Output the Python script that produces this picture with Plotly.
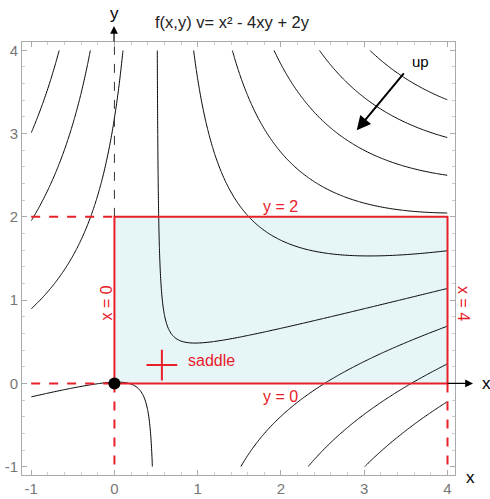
import numpy as np
import plotly.graph_objects as go

# f(x,y) = a*x^2 + b*x*y + c*y
coef_a, coef_b, coef_c = 1, -4, 2
x_span = [-1, 4]
y_span = [-1, 4]
levels = [-31.67, -25.33, -19.0, -12.67, -6.33, 0.0, 6.33, 12.67, 19.0, 25.33]
box_x = [0, 4]
box_y = [0, 2]
saddle_pt = [0.57, 0.22]
origin_pt = [0, 0]
up_tail = [3.49, 3.74]
up_tip = [2.91, 3.04]
tick_vals = [-1, 0, 1, 2, 3, 4]
tick_text = ["-1", "0", "1", "2", "3", "4"]

RED = "#e8202a"
FONT = "Liberation Sans, Arial, sans-serif"

xs = np.linspace(x_span[0], x_span[1], 251)
ys = np.linspace(y_span[0], y_span[1], 251)
X, Y = np.meshgrid(xs, ys)
Z = coef_a * X**2 + coef_b * X * Y + coef_c * Y

step = levels[1] - levels[0]
fig = go.Figure()
fig.add_trace(go.Contour(
    x=xs, y=ys, z=Z,
    contours=dict(coloring="lines", start=levels[0], end=levels[-1] + 0.01, size=step),
    colorscale=[[0, "black"], [1, "black"]],
    line=dict(width=1),
    showscale=False, hoverinfo="skip",
))

# red dashed guides
dash = dict(color=RED, width=2, dash="dash")
for seg in [([x_span[0], box_x[0]], [box_y[1], box_y[1]]),
            ([x_span[0], box_x[0]], [box_y[0], box_y[0]]),
            ([box_x[0], box_x[0]], [box_y[0], y_span[0]]),
            ([box_x[1], box_x[1]], [box_y[0], y_span[0]])]:
    fig.add_trace(go.Scatter(x=seg[0], y=seg[1], mode="lines", line=dash,
                             showlegend=False, hoverinfo="skip"))

# black dashed y axis inside the frame
fig.add_trace(go.Scatter(x=[0, 0], y=[box_y[1], 4.1], mode="lines",
                         line=dict(color="#333", width=1, dash="dash"),
                         showlegend=False, hoverinfo="skip"))

# box border
fig.add_trace(go.Scatter(
    x=[box_x[0], box_x[1], box_x[1], box_x[0], box_x[0]],
    y=[box_y[0], box_y[0], box_y[1], box_y[1], box_y[0]],
    mode="lines", line=dict(color=RED, width=2),
    showlegend=False, hoverinfo="skip"))

fig.add_trace(go.Scatter(x=[saddle_pt[0]], y=[saddle_pt[1]], mode="markers",
                         marker=dict(symbol="cross-thin", size=22, line=dict(color=RED, width=2)),
                         showlegend=False, hoverinfo="skip"))
fig.add_trace(go.Scatter(x=[origin_pt[0]], y=[origin_pt[1]], mode="markers",
                         marker=dict(size=12, color="black"), cliponaxis=False,
                         showlegend=False, hoverinfo="skip"))

fig.add_shape(type="rect", x0=box_x[0], x1=box_x[1], y0=box_y[0], y1=box_y[1],
              fillcolor="#e6f6f7", line=dict(width=0), layer="below")

red_font = dict(family=FONT, size=16, color=RED)
ann = [
    dict(x=1.17, y=0.28, text="saddle", font=red_font),
    dict(x=2.0, y=2.12, text="y = 2", font=red_font),
    dict(x=2.0, y=-0.16, text="y = 0", font=red_font),
    dict(x=-0.1, y=0.96, text="x = 0", font=red_font, textangle=-90),
    dict(x=1.021, y=0.397, xref="paper", yref="paper", text="x = 4", font=red_font, textangle=90),
    dict(x=3.68, y=3.87, text="up", font=dict(family=FONT, size=15, color="black")),
    dict(x=0.485, y=1.046, xref="paper", yref="paper", text="f(x,y) v= x² - 4xy + 2y",
         font=dict(family=FONT, size=16.5, color="#222")),
    dict(x=0.2125, y=1.066, xref="paper", yref="paper", text="y",
         font=dict(family=FONT, size=17, color="black")),
    dict(x=1.0716, y=0.2115, xref="paper", yref="paper", text="x",
         font=dict(family=FONT, size=17, color="black")),
    dict(x=1.035, y=-0.005, xref="paper", yref="paper", text="x",
         font=dict(family=FONT, size=17, color="black")),
]
for a in ann:
    a.setdefault("xref", "x")
    a.setdefault("yref", "y")
    fig.add_annotation(showarrow=False, xanchor="center", yanchor="middle", **a)

# arrows
fig.add_annotation(x=up_tip[0], y=up_tip[1], ax=up_tail[0], ay=up_tail[1],
                   xref="x", yref="y", axref="x", ayref="y", text="",
                   showarrow=True, arrowhead=2, arrowsize=1.4, arrowwidth=2, arrowcolor="black")
fig.add_annotation(x=0.2125, y=1.037, ax=0, ay=17, xref="paper", yref="paper",
                   text="", showarrow=True,
                   arrowhead=2, arrowsize=1.3, arrowwidth=1.2, arrowcolor="black")
fig.add_annotation(x=1.0416, y=0.2115, ax=-27, ay=0, xref="paper", yref="paper",
                   text="", showarrow=True,
                   arrowhead=2, arrowsize=1.3, arrowwidth=1.2, arrowcolor="black")

axis_common = dict(
    showgrid=False, zeroline=False, showline=True, linecolor="#aaa", linewidth=1,
    mirror="allticks", ticks="inside", ticklen=5, tickcolor="#aaa", automargin=False,
    tickvals=tick_vals, ticktext=tick_text,
    tickfont=dict(family=FONT, size=15, color="#777"),
    minor=dict(ticks="inside", ticklen=3, tickcolor="#ccc", dtick=0.2),
)
fig.update_xaxes(range=[-1.11, 4.09], **axis_common)
fig.update_yaxes(range=[-1.1, 4.1], **axis_common)

fig.update_layout(
    width=490, height=499,
    margin=dict(l=22, r=35, t=42, b=24),
    plot_bgcolor="white", paper_bgcolor="white",
    showlegend=False,
)

# drop the page's default 8px body margin so the figure fills the window
fig.write_html("out.html", config={"displayModeBar": False},
               post_script="document.body.style.margin='0px';")
